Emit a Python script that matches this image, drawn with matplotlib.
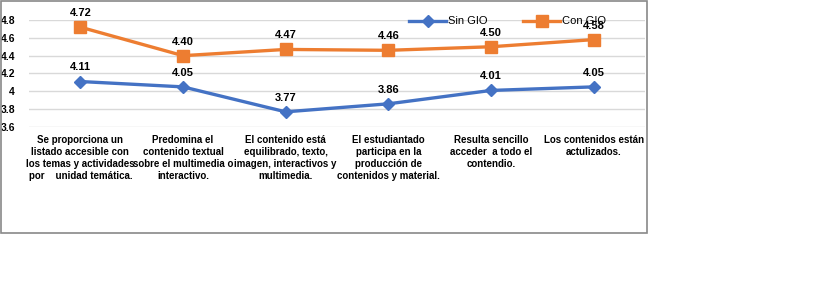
import matplotlib.pyplot as plt
from matplotlib.patches import Rectangle

categories = [
    "Se proporciona un\nlistado accesible con\nlos temas y actividades\npor    unidad temática.",
    "Predomina el\ncontenido textual\nsobre el multimedia o\ninteractivo.",
    "El contenido está\nequilibrado, texto,\nimagen, interactivos y\nmultimedia.",
    "El estudiantado\nparticipa en la\nproducción de\ncontenidos y material.",
    "Resulta sencillo\nacceder  a todo el\ncontendio.",
    "Los contenidos están\nactulizados.",
]
sin_gio = [4.11, 4.05, 3.77, 3.86, 4.01, 4.05]
con_gio = [4.72, 4.40, 4.47, 4.46, 4.50, 4.58]
y_ticks = [3.6, 3.8, 4.0, 4.2, 4.4, 4.6, 4.8]

blue = '#4472C4'
orange = '#ED7D31'
plt.rcParams['font.family'] = ['Liberation Sans', 'DejaVu Sans']

W, H = 836, 307
fig = plt.figure(figsize=(W / 100, H / 100), dpi=100)
ax = fig.add_axes([29 / W, 1 - 127 / H, (645 - 29) / W, (127 - 20) / H])

x = list(range(len(categories)))
ax.plot(x, sin_gio, color=blue, lw=2.4, marker='D', ms=6, label='Sin GIO', zorder=3)
ax.plot(x, con_gio, color=orange, lw=2.4, marker='s', ms=8, label='Con GIO', zorder=3)

for series in (sin_gio, con_gio):
    for xi, v in zip(x, series):
        ax.annotate(f"{v:.2f}", (xi, v), xytext=(0, 6.5), textcoords='offset points',
                    ha='center', va='bottom', fontsize=8, fontweight='bold')

ax.set_xlim(-0.5, len(categories) - 0.5)
ax.set_ylim(3.6, 4.8)
ax.set_yticks(y_ticks)
ax.set_yticklabels([f"{t:g}" for t in y_ticks], fontsize=7.5, fontweight='bold')
ax.set_xticks(x)
ax.set_xticklabels(categories, fontsize=7, fontweight='bold', linespacing=1.25)
ax.tick_params(axis='both', length=0)
ax.tick_params(axis='x', pad=6)
ax.tick_params(axis='y', pad=10)
ax.grid(axis='y', color='#D9D9D9', lw=1)
ax.set_axisbelow(True)
for s in ax.spines.values():
    s.set_visible(False)

ax.legend(loc='upper left', bbox_to_anchor=(405 / W, 1 - 12 / H), bbox_transform=fig.transFigure,
          ncol=2, frameon=False, fontsize=8, handlelength=3.3, columnspacing=3.2,
          borderaxespad=0, handletextpad=0.2)

fig.patches.append(Rectangle((1 / W, 1 - 233 / H), 646 / W, 232 / H, transform=fig.transFigure,
                             fill=False, edgecolor='#898989', lw=1.2))

fig.savefig('out.png', dpi=100)
